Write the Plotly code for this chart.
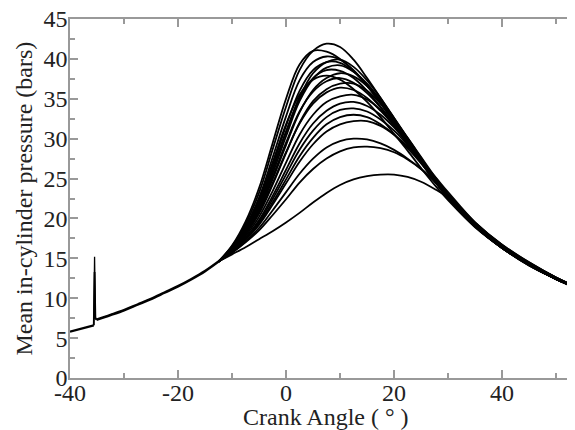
import plotly.graph_objects as go

# compression stroke, shared by every cycle
pre_x = [-40, -37.5, -35.6]
pre_y = [5.8, 6.25, 6.6]

spike_x = [-35.6, -35.45, -35.3, -35.1]
spike_hi = [6.6, 15.2, 7.6, 7.3]
spike_lo = [6.6, 13.3, 7.5, 7.3]

comp_x = [-35.1, -32.5, -30, -27.5, -25, -22.5, -20, -17.5, -15, -12.5]
comp_y = [7.3, 7.9, 8.5, 9.2, 9.9, 10.7, 11.5, 12.4, 13.4, 14.6]

# combustion / expansion, one list per cycle
crank = [-12.5, -10, -7.5, -5, -2.5, 0, 2.5, 5, 7.5, 10, 12.5, 15, 17.5,
         20, 22.5, 25, 27.5, 30, 35, 40, 45, 50, 53.5]

cycles = {
    "A": [14.6, 16.5, 19.3, 23.2, 28.6, 34.0, 38.6, 41.0, 41.9, 41.5, 39.9, 37.6, 35.1, 32.5, 29.8, 27.2, 24.8, 22.6, 19.0, 16.3, 14.1, 12.4, 11.4],
    "B": [14.6, 16.6, 19.6, 23.8, 29.4, 35.0, 39.3, 41.0, 40.9, 40.0, 38.5, 36.6, 34.4, 32.0, 29.5, 27.0, 24.7, 22.6, 19.0, 16.3, 14.1, 12.4, 11.3],
    "C": [14.6, 16.4, 19.0, 22.6, 27.6, 32.8, 37.3, 39.6, 40.3, 39.9, 38.6, 36.7, 34.5, 32.1, 29.6, 27.1, 24.8, 22.6, 19.0, 16.3, 14.2, 12.4, 11.4],
    "S": [14.6, 16.2, 18.5, 21.6, 26.0, 30.8, 35.2, 38.2, 39.6, 39.9, 39.0, 37.3, 35.1, 32.6, 30.0, 27.4, 25.0, 22.7, 19.0, 16.3, 14.2, 12.4, 11.4],
    "D": [14.6, 16.3, 18.7, 22.0, 26.6, 31.6, 36.0, 38.6, 39.6, 39.5, 38.4, 36.7, 34.6, 32.2, 29.7, 27.2, 24.8, 22.6, 19.0, 16.4, 14.2, 12.4, 11.4],
    "E": [14.6, 16.2, 18.4, 21.4, 25.6, 30.3, 34.7, 37.5, 38.9, 39.2, 38.4, 36.9, 34.8, 32.4, 29.9, 27.4, 25.0, 22.7, 19.1, 16.4, 14.2, 12.5, 11.4],
    "F": [14.6, 16.3, 18.6, 21.8, 26.2, 30.9, 35.0, 37.6, 38.6, 38.5, 37.6, 36.0, 34.0, 31.8, 29.4, 27.0, 24.7, 22.5, 19.0, 16.3, 14.2, 12.4, 11.4],
    "G": [14.6, 16.1, 18.2, 21.0, 24.9, 29.2, 33.3, 36.1, 37.6, 38.2, 37.8, 36.6, 34.8, 32.6, 30.1, 27.6, 25.1, 22.8, 19.1, 16.4, 14.2, 12.5, 11.4],
    "T": [14.6, 16.4, 18.9, 22.3, 27.0, 31.8, 35.5, 37.4, 37.9, 37.4, 36.2, 34.6, 32.7, 30.6, 28.5, 26.3, 24.2, 22.3, 18.9, 16.3, 14.1, 12.4, 11.3],
    "H": [14.6, 16.2, 18.3, 21.2, 25.2, 29.5, 33.4, 35.9, 37.2, 37.6, 37.0, 35.7, 33.9, 31.8, 29.5, 27.1, 24.8, 22.6, 19.0, 16.3, 14.2, 12.4, 11.4],
    "I": [14.6, 16.0, 18.0, 20.6, 24.2, 28.2, 32.0, 34.7, 36.2, 36.9, 36.9, 36.0, 34.4, 32.4, 30.1, 27.7, 25.3, 23.0, 19.2, 16.5, 14.3, 12.5, 11.4],
    "J": [14.6, 16.1, 18.1, 20.8, 24.4, 28.3, 31.9, 34.4, 35.8, 36.4, 36.1, 35.1, 33.5, 31.6, 29.4, 27.1, 24.8, 22.6, 19.0, 16.3, 14.2, 12.4, 11.4],
    "K": [14.6, 16.0, 17.8, 20.2, 23.4, 27.0, 30.5, 33.0, 34.6, 35.3, 35.5, 34.9, 33.6, 31.8, 29.7, 27.4, 25.1, 22.9, 19.2, 16.4, 14.3, 12.5, 11.4],
    "L": [14.6, 15.9, 17.6, 19.8, 22.8, 26.1, 29.4, 31.9, 33.5, 34.4, 34.6, 34.1, 33.0, 31.4, 29.4, 27.3, 25.1, 22.9, 19.2, 16.5, 14.3, 12.5, 11.4],
    "M": [14.6, 15.9, 17.5, 19.6, 22.4, 25.5, 28.6, 31.0, 32.7, 33.6, 33.8, 33.4, 32.4, 31.0, 29.2, 27.2, 25.1, 23.0, 19.3, 16.5, 14.3, 12.5, 11.4],
    "N": [14.6, 15.9, 17.4, 19.4, 22.0, 24.9, 27.8, 30.1, 31.8, 32.7, 33.0, 32.7, 31.8, 30.5, 28.8, 26.9, 24.9, 22.9, 19.3, 16.5, 14.3, 12.5, 11.4],
    "O": [14.6, 15.8, 17.3, 19.2, 21.7, 24.4, 27.1, 29.3, 30.9, 31.8, 32.2, 32.2, 31.6, 30.5, 29.0, 27.2, 25.3, 23.3, 19.5, 16.6, 14.4, 12.6, 11.5],
    "P": [14.6, 15.7, 17.1, 18.8, 21.0, 23.3, 25.6, 27.5, 28.9, 29.7, 30.0, 29.9, 29.4, 28.6, 27.5, 26.2, 24.6, 22.9, 19.4, 16.6, 14.4, 12.6, 11.5],
    "Q": [14.6, 15.7, 17.0, 18.5, 20.4, 22.4, 24.5, 26.2, 27.5, 28.4, 28.9, 29.0, 28.8, 28.3, 27.4, 26.2, 24.7, 23.0, 19.5, 16.7, 14.5, 12.6, 11.5],
    "R": [14.6, 15.5, 16.4, 17.4, 18.4, 19.5, 20.7, 22.0, 23.2, 24.2, 24.9, 25.3, 25.5, 25.5, 25.2, 24.6, 23.7, 22.6, 19.4, 16.7, 14.5, 12.6, 11.5],
}

x_ticks = [-40, -20, 0, 20, 40]
x_labels = ["-40", "-20", "0", "20", "40"]

fig = go.Figure()
fig.add_trace(go.Scatter(x=pre_x, y=pre_y, mode="lines", line=dict(color="black", width=2.2)))
fig.add_trace(go.Scatter(x=spike_x, y=spike_hi, mode="lines", line=dict(color="black", width=1.3)))
fig.add_trace(go.Scatter(x=spike_x, y=spike_lo, mode="lines", line=dict(color="black", width=1.8)))
fig.add_trace(go.Scatter(x=comp_x, y=comp_y, mode="lines", line=dict(color="black", width=2.6, shape="spline")))
for name, p in cycles.items():
    fig.add_trace(go.Scatter(x=crank, y=p, mode="lines", name=name,
                             line=dict(color="black", width=1.8, shape="spline")))

axis_font = dict(family="Liberation Serif", size=24, color="#222")
axis_common = dict(showline=True, linecolor="#999", linewidth=1.5, mirror="ticks",
                   ticks="inside", ticklen=8, tickcolor="#999", tickwidth=1.5,
                   showgrid=False, zeroline=False, tickfont=axis_font,
                   ticklabeloverflow="allow")

fig.update_xaxes(range=[-40, 53.5], tickvals=x_ticks, ticktext=x_labels,
                 ticklabelstandoff=-8,
                 minor=dict(ticks="inside", ticklen=5, tickcolor="#999", dtick=10, tick0=-30),
                 **axis_common)
fig.update_yaxes(range=[0, 45], dtick=5, ticklabelstandoff=-4,
                 minor=dict(ticks="inside", ticklen=5, tickcolor="#999", dtick=2.5),
                 **axis_common)

# axis titles placed by hand so they fit the tight margins
fig.add_annotation(text="Crank Angle ( ° )", xref="paper", yref="paper",
                   x=0.507, y=-0.108, xanchor="center", yanchor="middle",
                   showarrow=False, font=axis_font)
fig.add_annotation(text="Mean in-cylinder pressure (bars)", xref="paper", yref="paper",
                   x=-0.093, y=0.5, xanchor="center", yanchor="middle", textangle=-90,
                   showarrow=False, font=axis_font)

# the page body adds an 8px offset, so the figure is 8px smaller on each side
fig.update_layout(width=567, height=422, showlegend=False,
                  plot_bgcolor="white", paper_bgcolor="white",
                  margin=dict(l=62, r=0, t=11, b=52, autoexpand=False))

fig.write_html("out.html")
